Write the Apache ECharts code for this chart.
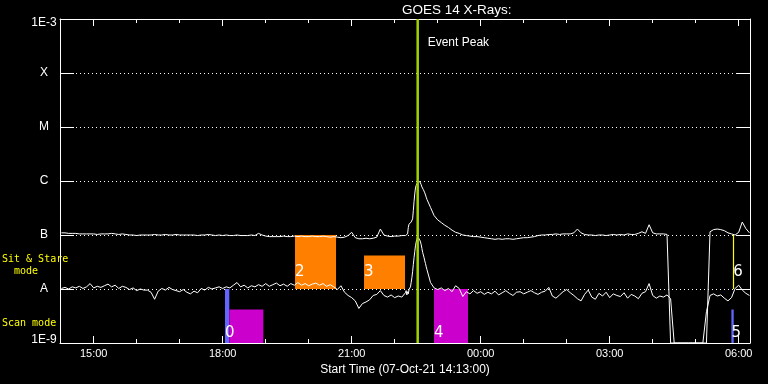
<!DOCTYPE html>
<html><head><meta charset="utf-8">
<script src="https://cdn.jsdelivr.net/npm/echarts@6/dist/echarts.min.js"></script>
<style>html,body{margin:0;padding:0;background:#000;}#c{width:768px;height:384px;}</style>
</head><body><div id="c"></div>
<script>
// ---------- DATA ----------
const startHour = 14 + 13 / 60;      // 07-Oct-21 14:13 (hours since 07-Oct 00:00)
const endHour = 30.263;              // ~06:16 next day
const baseStartHour = 14.25;         // 5-minute samples from 14:15
const baseStepMin = 5;
const flareStartHour = 22.25;        // 1-minute samples around the flare, 22:15 - 22:45
const flareStepMin = 1;

// log10 flux, long channel (1-8 A); null = covered by flare detail; -9 = no data (floor)
const longExp = [
 -6.96,-6.96,-6.97,-6.97,-6.97,-6.98,-6.98,-6.98,-6.98,-6.98,-6.99,-6.98,
 -6.98,-6.98,-6.97,-6.98,-6.99,-6.98,-6.99,-7.00,-7.00,-7.01,-7.00,-7.00,
 -7.00,-7.00,-6.99,-7.00,-7.00,-6.99,-7.00,-7.00,-6.99,-7.00,-7.00,-7.00,
 -7.00,-7.00,-7.01,-7.00,-7.00,-6.99,-7.00,-7.01,-7.00,-7.01,-7.00,-7.01,
 -7.01,-7.00,-7.01,-7.01,-7.01,-7.00,-7.01,-6.97,-7.00,-7.02,-7.03,-7.03,
 -7.03,-7.03,-7.02,-7.03,-7.03,-7.02,-7.03,-7.02,-7.03,-7.03,-7.02,-7.03,
 -7.03,-7.02,-7.03,-7.04,-7.03,-7.04,-7.05,-7.04,-7.01,-6.95,-7.05,-7.07,
 -7.07,-7.06,-7.07,-7.06,-7.04,-6.89,-7.00,-7.02,-7.03,-7.02,-7.02,-7.01,
 null,null,null,null,null,null,null,-6.49,-6.64,-6.72,-6.77,-6.82,
 -6.86,-6.91,-6.95,-6.97,-7.00,-7.01,-7.02,-7.03,-7.03,-7.04,-7.05,-7.06,
 -7.07,-7.08,-7.07,-7.08,-7.07,-7.07,-7.08,-7.07,-7.06,-7.05,-7.05,-7.04,
 -7.03,-7.01,-7.00,-7.00,-6.99,-6.99,-6.98,-6.99,-6.98,-6.98,-6.98,-6.96,
 -6.89,-6.96,-6.99,-7.00,-7.00,-7.01,-7.00,-7.00,-7.01,-7.00,-6.99,-7.00,
 -6.99,-7.00,-6.98,-6.99,-6.99,-6.97,-6.94,-6.97,-6.81,-6.96,-6.98,-6.98,
 -6.98,-6.99,-9,-9,-9,-9,-9,-9,-9,-9,-9,-9,
 -9,-6.94,-6.90,-6.89,-6.90,-6.92,-6.96,-6.98,-7.00,-6.95,-6.76,-6.88,-6.96
];
// log10 flux, short channel (0.5-4 A)
const shortExp = [
 -7.99,-7.97,-8.00,-7.96,-7.98,-7.95,-7.99,-7.96,-7.90,-7.98,-7.95,-7.97,
 -7.94,-7.91,-7.96,-7.93,-7.99,-7.95,-7.97,-8.01,-7.98,-8.03,-8.00,-8.02,
 -8.02,-8.06,-8.19,-8.04,-7.99,-8.02,-7.97,-8.01,-8.03,-8.05,-8.01,-8.06,
 -8.09,-8.04,-8.07,-7.99,-8.02,-7.97,-8.00,-7.98,-7.96,-7.99,-7.96,-7.98,
 -7.93,-7.88,-7.96,-7.93,-7.98,-7.94,-7.96,-7.92,-7.95,-7.90,-7.95,-7.92,
 -7.89,-7.94,-7.91,-7.95,-7.90,-7.93,-7.88,-7.93,-7.90,-7.94,-7.91,-7.89,
 -7.93,-7.90,-7.95,-7.92,-7.96,-8.01,-7.94,-8.06,-8.12,-8.16,-8.22,-8.36,
 -8.27,-8.24,-8.20,-8.12,-8.10,-8.03,-8.12,-8.15,-8.11,-8.16,-8.13,-8.15,
 null,null,null,null,null,null,null,-7.88,-7.98,-8.01,-7.98,-8.03,
 -7.99,-8.05,-7.94,-7.99,-8.14,-8.05,-8.09,-8.03,-8.08,-8.05,-8.10,-8.06,
 -8.09,-8.04,-8.11,-8.07,-8.03,-8.08,-8.12,-8.06,-8.05,-8.09,-8.06,-8.03,
 -8.07,-8.10,-8.06,-8.04,-7.97,-8.13,-8.17,-8.11,-8.05,-8.01,-8.07,-8.12,
 -8.18,-8.22,-8.10,-8.02,-8.15,-8.19,-8.08,-8.13,-8.06,-8.16,-8.09,-8.12,
 -8.14,-8.07,-8.17,-8.10,-8.13,-8.18,-8.08,-8.05,-7.90,-8.12,-8.17,-8.13,
 -8.15,-8.11,-8.18,-9,-9,-9,-9,-9,-9,-9,-9,-9,
 -8.42,-8.12,-8.09,-8.13,-8.11,-8.17,-8.22,-8.16,-7.99,-7.93,-8.02,-8.08,-8.12
];
const flareLongExp = [
 -7.01,-7.01,-7.00,-6.98,-6.86,-6.80,-6.78,-6.77,-6.76,-6.75,-6.70,-6.55,-6.38,-6.24,-6.13,-6.08,
 -6.05,-6.03,-6.01,-6.00,-6.01,-6.04,-6.07,-6.11,-6.13,-6.16,-6.19,-6.22,-6.26,-6.30,-6.34
];
const flareShortExp = [
 -8.07,-8.03,-8.11,-8.05,-8.09,-8.01,-8.03,-7.96,-7.88,-7.79,-7.68,-7.55,-7.42,-7.31,-7.20,-7.13,
 -7.08,-7.03,-7.01,-7.02,-7.09,-7.13,-7.18,-7.25,-7.32,-7.37,-7.42,-7.48,-7.53,-7.59,-7.64
];

const eventPeakHour = 22.535;

// observation boxes
const boxStart   = [18.054, 18.154, 19.682, 21.287, 22.914, 29.830];
const boxEnd     = [18.154, 18.945, 20.636, 22.240, 23.705, 29.884];
const boxLowExp  = [-9, -9, -8, -8, -9, -9];
const boxHighExp = [-8, -8.38, -7, -7.38, -8, -8.38];
const boxKind    = ['blue', 'scan', 'sit', 'sit', 'scan', 'blue'];
const markerTime = [29.874];
const markerLowExp = [-8];
const markerHighExp = [-7];
const obsLabel     = ['0', '2', '3', '4', '5', '6'];
const obsLabelTime = [18.054, 19.682, 21.287, 22.914, 29.830, 29.874];
const obsLabelMode = ['scan', 'sit', 'sit', 'scan', 'scan', 'sit'];

const hourTicks = [15,16,17,18,19,20,21,22,23,24,25,26,27,28,29,30];
const hourLabels = [15,18,21,24,27,30];
const yTickExp = [-9,-8,-7,-6,-5,-4,-3];
const yTickLabels = ['1E-9','A','B','C','M','X','1E-3'];

// ---------- STYLE ----------
const kindColor = { blue: '#6464ff', scan: '#cc00cc', sit: '#ff8000' };
const FONT = 'Liberation Sans';

// ---------- BUILD ----------
function buildSeries(baseArr, flareArr) {
  const pts = [];
  baseArr.forEach((e, i) => {
    if (e === null) return;
    pts.push([baseStartHour + i * baseStepMin / 60, Math.pow(10, e)]);
  });
  flareArr.forEach((e, i) => {
    pts.push([flareStartHour + i * flareStepMin / 60, Math.pow(10, e)]);
  });
  pts.sort((a, b) => a[0] - b[0]);
  return pts;
}
const longData = buildSeries(longExp, flareLongExp);
const shortData = buildSeries(shortExp, flareShortExp);

const pad = n => (n < 10 ? '0' : '') + n;
const chart = echarts.init(document.getElementById('c'), null, { renderer: 'canvas' });

const xBase = { type: 'value', min: startHour, max: endHour, gridIndex: 0, splitLine: { show: false } };
const white = '#ffffff';

const option = {
  backgroundColor: '#000000',
  animation: false,
  grid: { left: 60, right: 18, top: 19, bottom: 41, containLabel: false },
  xAxis: [
    Object.assign({}, xBase, {
      position: 'bottom',
      axisLine: { show: true, lineStyle: { color: white, width: 1 } },
      axisTick: { show: true, inside: true, length: 4, customValues: hourTicks, lineStyle: { color: white } },
      axisLabel: { show: true, customValues: hourLabels, color: white, fontFamily: FONT, fontSize: 11, margin: 5,
        formatter: v => pad(Math.round(v) % 24) + ':00' },
      name: 'Start Time (07-Oct-21 14:13:00)', nameLocation: 'middle', nameGap: 18,
      nameTextStyle: { color: white, fontFamily: FONT, fontSize: 12 }
    }),
    Object.assign({}, xBase, {
      position: 'bottom',
      axisLine: { show: false },
      axisTick: { show: true, inside: true, length: 7, customValues: hourLabels, lineStyle: { color: white } },
      axisLabel: { show: false }
    }),
    Object.assign({}, xBase, {
      position: 'top',
      axisLine: { show: true, lineStyle: { color: white, width: 1 } },
      axisTick: { show: true, inside: true, length: 4, customValues: hourTicks, lineStyle: { color: white } },
      axisLabel: { show: false }
    }),
    Object.assign({}, xBase, {
      position: 'top',
      axisLine: { show: false },
      axisTick: { show: true, inside: true, length: 7, customValues: hourLabels, lineStyle: { color: white } },
      axisLabel: { show: false }
    })
  ],
  yAxis: [
    {
      type: 'log', logBase: 10, min: 1e-9, max: 1e-3, splitNumber: 6, position: 'left',
      axisLine: { show: true, lineStyle: { color: white } },
      axisTick: { show: true, inside: true, length: 14, lineStyle: { color: white } },
      splitLine: { show: true, lineStyle: { color: white, width: 1, type: [1, 3] } },
      axisLabel: {
        show: true, color: white, fontFamily: FONT, fontSize: 12, align: 'center', margin: 16,
        verticalAlign: 'middle',
        formatter: v => {
          const e = Math.round(Math.log10(v));
          const k = yTickExp.indexOf(e);
          if (k < 0) return '';
          if (k === 0) return '{lo|' + yTickLabels[k] + '}';
          if (k === yTickExp.length - 1) return '{hi|' + yTickLabels[k] + '}';
          return yTickLabels[k];
        },
        rich: {
          lo: { color: white, fontFamily: FONT, fontSize: 12, padding: [0, 0, 6, 0] },
          hi: { color: white, fontFamily: FONT, fontSize: 12, padding: [8, 0, 0, 0] }
        }
      }
    },
    {
      type: 'log', logBase: 10, min: 1e-9, max: 1e-3, splitNumber: 6, position: 'right',
      axisLine: { show: true, lineStyle: { color: white } },
      axisTick: { show: true, inside: true, length: 14, lineStyle: { color: white } },
      splitLine: { show: false },
      axisLabel: { show: false }
    }
  ],
  graphic: [
    { type: 'text', left: 402, top: 3, style: { text: 'GOES 14 X-Rays:', fill: white, font: '13.5px "Liberation Sans"', textAlign: 'center' } },
    { type: 'text', x: 2, y: 253, style: { text: 'Sit & Stare\n  mode', fill: '#ffff00', font: '10px "DejaVu Sans Mono"', lineHeight: 12, textVerticalAlign: 'top' } },
    { type: 'text', x: 2, y: 318, style: { text: 'Scan mode', fill: '#ffff00', font: '10px "DejaVu Sans Mono"', textVerticalAlign: 'top' } }
  ],
  series: [
    {
      type: 'custom', name: 'boxes', z: 1,
      data: boxStart.map((s, i) => [s, boxEnd[i], Math.pow(10, boxLowExp[i]), Math.pow(10, boxHighExp[i]), i]),
      encode: { x: [0, 1], y: [2, 3] },
      renderItem: (params, api) => {
        const i = api.value(4);
        const p0 = api.coord([api.value(0), api.value(3)]);
        const p1 = api.coord([api.value(1), api.value(2)]);
        return { type: 'rect', shape: { x: p0[0], y: p0[1], width: p1[0] - p0[0], height: p1[1] - p0[1] },
                 style: { fill: kindColor[boxKind[i]] } };
      }
    },
    {
      type: 'custom', name: 'marker', z: 4,
      data: markerTime.map((t, i) => [t, Math.pow(10, markerLowExp[i]), Math.pow(10, markerHighExp[i])]),
      encode: { x: 0, y: [1, 2] },
      renderItem: (params, api) => {
        const a = api.coord([api.value(0), api.value(2)]);
        const b = api.coord([api.value(0), api.value(1)]);
        return { type: 'line', shape: { x1: Math.round(a[0]) + 0.5, y1: a[1], x2: Math.round(a[0]) + 0.5, y2: b[1] },
                 style: { stroke: '#ffff00', lineWidth: 1.2 } };
      }
    },
    {
      type: 'custom', name: 'obsLabels', z: 4,
      data: obsLabelTime.map((t, i) => [t, obsLabelMode[i] === 'sit' ? 1e-8 : 1e-9, i]),
      encode: { x: 0, y: 1 },
      renderItem: (params, api) => {
        const i = api.value(2);
        const p = api.coord([api.value(0), api.value(1)]);
        const dy = obsLabelMode[i] === 'sit' ? -17 : -10;
        return { type: 'text', x: p[0], y: p[1] + dy,
                 style: { text: obsLabel[i], fill: white, font: '15px "DejaVu Sans"', textAlign: 'left', textVerticalAlign: 'middle' } };
      }
    },
    {
      type: 'line', name: 'long', data: longData, showSymbol: false, symbol: 'none', clip: true, z: 3,
      lineStyle: { color: white, width: 1 }
    },
    {
      type: 'line', name: 'short', data: shortData, showSymbol: false, symbol: 'none', clip: true, z: 3,
      lineStyle: { color: white, width: 1 }
    },
    {
      type: 'custom', name: 'eventPeak', z: 5,
      data: [[eventPeakHour, 1e-9, 1e-3]],
      encode: { x: 0, y: [1, 2] },
      renderItem: (params, api) => {
        const top = api.coord([api.value(0), api.value(2)]);
        const bot = api.coord([api.value(0), api.value(1)]);
        return { type: 'group', children: [
          { type: 'line', shape: { x1: top[0], y1: top[1], x2: bot[0], y2: bot[1] }, style: { stroke: '#a0d200', lineWidth: 2.5 } },
          { type: 'text', x: top[0] + 10, y: top[1] + 24,
            style: { text: 'Event Peak', fill: white, font: '12px "Liberation Sans"', textAlign: 'left', textVerticalAlign: 'middle' } }
        ] };
      }
    }
  ]
};
chart.setOption(option);
</script>
</body></html>
